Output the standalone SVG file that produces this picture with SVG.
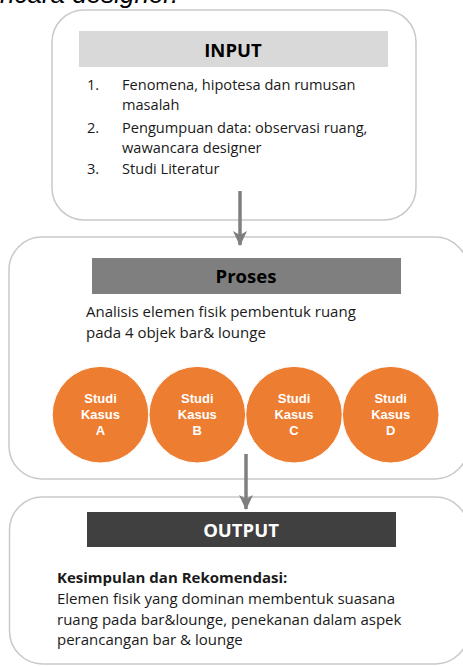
<svg xmlns="http://www.w3.org/2000/svg" width="463" height="666" viewBox="0 0 463 666">
<style>
.box{fill:#fff;stroke:#c9c9c9;stroke-width:1.5}
.t{font-family:"Open Sans","Liberation Sans",sans-serif;font-size:15px;fill:#1a1a1a}
.ti{font-family:"Open Sans","Liberation Sans",sans-serif;font-size:14.6px;fill:#1a1a1a}
.hd{font-family:"Open Sans","Liberation Sans",sans-serif;font-size:18.5px;font-weight:bold;text-anchor:middle}
.circ{fill:#ed7d31;stroke:#fff;stroke-width:1}
.ct{font-family:"Liberation Sans",Arial,sans-serif;font-size:13px;font-weight:bold;fill:#fff;text-anchor:middle}
.conn{stroke:#7f7f7f;stroke-width:3.5;fill:none}
</style>
<defs>
<marker id="ah" viewBox="0 0 16 16" refX="14" refY="8" markerWidth="16" markerHeight="16" markerUnits="userSpaceOnUse" orient="auto">
<path d="M0,1 L15,8 L0,15 L4,8 Z" fill="#7f7f7f"/>
</marker>
</defs>
<text x="0" y="3" font-family="Liberation Sans, Arial, sans-serif" font-size="26" font-style="italic" fill="#000">ncara designer.</text>
<g id="input">
<rect class="box" x="52" y="10" width="364" height="210" rx="32"/>
<rect x="79" y="31" width="309" height="36" fill="#d9d9d9"/>
<text class="hd" x="233" y="57" fill="#000">INPUT</text>
<text class="ti" x="87" y="89.5">1.</text>
<text class="ti" x="122" y="89.5">Fenomena, hipotesa dan rumusan</text>
<text class="ti" x="122" y="110">masalah</text>
<text class="ti" x="87" y="132.5">2.</text>
<text class="ti" x="122" y="132.5">Pengumpuan data: observasi ruang,</text>
<text class="ti" x="122" y="153">wawancara designer</text>
<text class="ti" x="87" y="174">3.</text>
<text class="ti" x="122" y="174">Studi Literatur</text>
</g>
<g id="proses">
<rect class="box" x="9" y="237" width="459" height="242" rx="33"/>
<rect x="92" y="258" width="309" height="36" fill="#7f7f7f"/>
<text class="hd" x="246" y="283" fill="#000">Proses</text>
<text class="t" x="86" y="317">Analisis elemen fisik pembentuk ruang</text>
<text class="t" x="86" y="338">pada 4 objek bar&amp; lounge</text>
</g>
<g id="studi-a">
<circle class="circ" cx="100.5" cy="414.7" r="48.3"/>
<text class="ct" x="100.5" y="403">Studi</text>
<text class="ct" x="100.5" y="419">Kasus</text>
<text class="ct" x="100.5" y="435">A</text>
</g>
<g id="studi-b">
<circle class="circ" cx="197.3" cy="414.7" r="48.3"/>
<text class="ct" x="197.3" y="403">Studi</text>
<text class="ct" x="197.3" y="419">Kasus</text>
<text class="ct" x="197.3" y="435">B</text>
</g>
<g id="studi-c">
<circle class="circ" cx="294" cy="414.7" r="48.3"/>
<text class="ct" x="294" y="403">Studi</text>
<text class="ct" x="294" y="419">Kasus</text>
<text class="ct" x="294" y="435">C</text>
</g>
<g id="studi-d">
<circle class="circ" cx="390.7" cy="414.7" r="48.3"/>
<text class="ct" x="390.7" y="403">Studi</text>
<text class="ct" x="390.7" y="419">Kasus</text>
<text class="ct" x="390.7" y="435">D</text>
</g>
<g id="output">
<rect class="box" x="9.5" y="497" width="459" height="167" rx="33"/>
<rect x="87" y="512" width="309" height="35" fill="#404040"/>
<text class="hd" x="241" y="537" fill="#fff">OUTPUT</text>
<text class="t" x="57" y="583" font-weight="bold">Kesimpulan dan Rekomendasi:</text>
<text class="t" x="57" y="604">Elemen fisik yang dominan membentuk suasana</text>
<text class="t" x="57" y="625">ruang pada bar&amp;lounge, penekanan dalam aspek</text>
<text class="t" x="57" y="645">perancangan bar &amp; lounge</text>
</g>
<g id="connectors">
<line class="conn" x1="240" y1="191" x2="240" y2="245" marker-end="url(#ah)"/>
<line class="conn" x1="246" y1="454" x2="246" y2="509" marker-end="url(#ah)"/>
</g>
</svg>
